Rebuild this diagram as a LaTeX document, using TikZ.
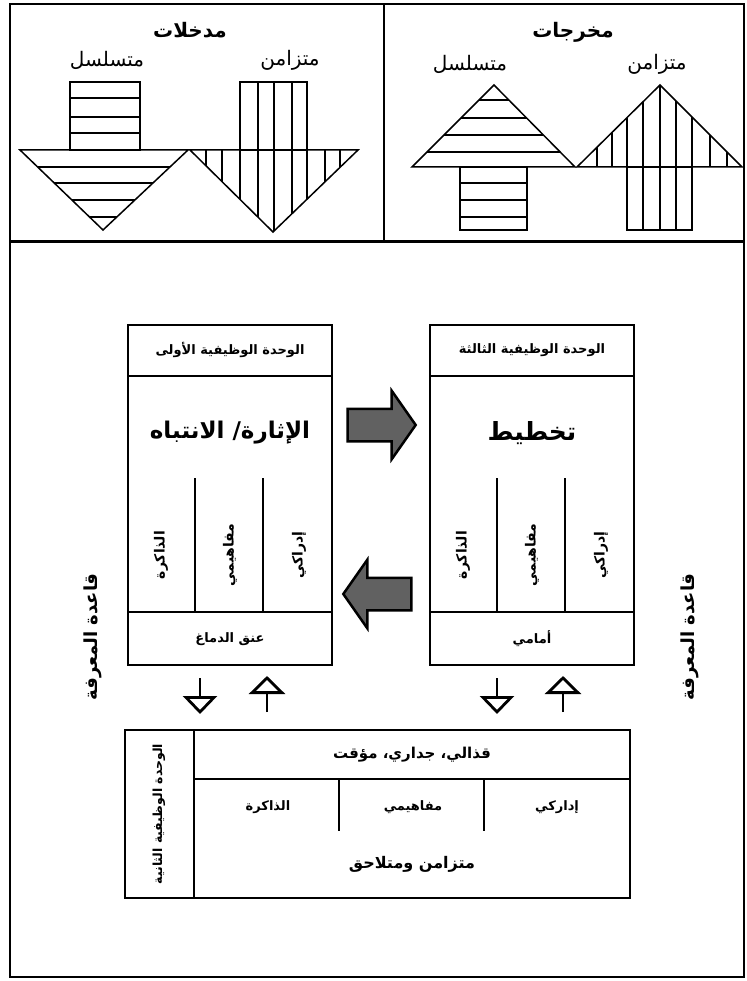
\documentclass[tikz,border=0pt]{standalone}
\usepackage{fontspec}
\usepackage{tikz}
\usetikzlibrary{arrows.meta,positioning,shapes.arrows,calc}
\TeXXeTstate=1
\newfontfamily\arabicfont[Script=Arabic]{DejaVu Sans}
\newcommand{\artext}[1]{{\arabicfont\beginR #1\endR}}

\begin{document}
\begin{tikzpicture}[
  x=1pt, y=-1pt,
  >=Stealth,
  unitbox/.style={
    draw,
    line width=2pt,
    minimum width=204pt,
    minimum height=340pt,
    inner sep=0pt
  },
  panelhead/.style={
    font=\fontsize{20pt}{22pt}\selectfont\bfseries
  },
  paneltag/.style={
    font=\fontsize{20pt}{22pt}\selectfont
  },
  unithead/.style={
    font=\fontsize{13pt}{15pt}\selectfont\bfseries
  },
  unittitle/.style={
    font=\fontsize{23pt}{26pt}\selectfont\bfseries
  },
  coltext/.style={
    font=\fontsize{14pt}{16pt}\selectfont\bfseries,
    rotate=90
  },
  sidetext/.style={
    font=\fontsize{18pt}{20pt}\selectfont\bfseries,
    rotate=90
  },
  hatchline/.style={
    line width=1.1pt
  },
  arrowline/.style={
    line width=1.5pt,
    line join=miter
  },
  blockarrow/.style={
    single arrow,
    draw,
    line width=2.5pt,
    fill=black!62,
    inner xsep=10pt,
    inner ysep=15pt,
    minimum height=68pt,
    single arrow head extend=18pt,
    single arrow tip angle=110
  },
  flowdown/.style={
    -{Triangle[open, length=18pt, width=34pt]},
    line width=2.8pt
  },
  flowup/.style={
    -{Triangle[open, length=18pt, width=36pt]},
    line width=2.8pt
  }
]

  \useasboundingbox (0,0) rectangle (746,981);

  % Outer frame and panels
  \draw[line width=2pt] (10,4) rectangle (744,977);
  \draw[line width=3pt] (10,242) -- (744,242);
  \draw[line width=2pt] (384,4) -- (384,242);

  % --- INPUTS PANEL ---
  \node[panelhead] (inhead) at (190,30) {\artext{مدخلات}};
  \node[paneltag] (inseq) at (107,60) {\artext{متسلسل}};
  \node[paneltag] (insim) at (290,60) {\artext{متزامن}};

  % sequential input arrow
  \foreach \y in {98,117,133} \draw[hatchline] (70,\y) -- (140,\y);
  \begin{scope}
    \clip (20,150) -- (188,150) -- (103,230) -- cycle;
    \foreach \y in {167,183,200,217} \draw[hatchline] (0,\y) -- (384,\y);
  \end{scope}
  \draw[arrowline] (70,82) rectangle (140,150);
  \draw[arrowline] (20,150) -- (188,150) -- (103,230) -- cycle;

  % simultaneous input arrow
  \foreach \x in {258,274,292} \draw[hatchline] (\x,82) -- (\x,150);
  \begin{scope}
    \clip (190,150) -- (358,150) -- (273,232) -- cycle;
    \foreach \x in {206,222,240,258,274,292,307,325,340} \draw[hatchline] (\x,140) -- (\x,240);
  \end{scope}
  \draw[arrowline] (240,82) rectangle (307,150);
  \draw[arrowline] (190,150) -- (358,150) -- (273,232) -- cycle;

  % --- OUTPUTS PANEL ---
  \node[panelhead] (outhead) at (573,32) {\artext{مخرجات}};
  \node[paneltag] (outseq) at (470,64) {\artext{متسلسل}};
  \node[paneltag] (outsim) at (657,64) {\artext{متزامن}};

  % sequential output arrow
  \begin{scope}
    \clip (412,167) -- (575,167) -- (494,85) -- cycle;
    \foreach \y in {100,118,135,152} \draw[hatchline] (384,\y) -- (746,\y);
  \end{scope}
  \foreach \y in {183,200,217} \draw[hatchline] (460,\y) -- (527,\y);
  \draw[arrowline] (460,167) rectangle (527,230);
  \draw[arrowline] (412,167) -- (575,167) -- (494,85) -- cycle;

  % simultaneous output arrow
  \begin{scope}
    \clip (577,167) -- (742,167) -- (660,85) -- cycle;
    \foreach \x in {597,612,627,643,660,676,692,710,727} \draw[hatchline] (\x,80) -- (\x,170);
  \end{scope}
  \foreach \x in {643,660,676} \draw[hatchline] (\x,167) -- (\x,230);
  \draw[arrowline] (627,167) rectangle (692,230);
  \draw[arrowline] (577,167) -- (742,167) -- (660,85) -- cycle;

  % --- FIRST UNIT ---
  \node[unitbox] (u1) at (230,495) {};
  \draw[line width=1.5pt] ([yshift=-52pt]u1.north west) -- ([yshift=-52pt]u1.north east);
  \draw[line width=1.5pt] ([yshift=54pt]u1.south west) -- ([yshift=54pt]u1.south east);
  \foreach \dx in {68,136}
    \draw[line width=1.2pt] ([xshift=\dx pt, yshift=-154pt]u1.north west) -- ([xshift=\dx pt, yshift=54pt]u1.south west);
  \node[unithead] (u1head) at ([yshift=-26pt]u1.north) {\artext{الوحدة الوظيفية الأولى}};
  \node[unittitle] (u1title) at ([yshift=-109pt]u1.north) {\artext{الإثارة/ الانتباه}};
  \node[coltext] (u1mem) at ([xshift=34pt, yshift=-60pt]u1.west) {\artext{الذاكرة}};
  \node[coltext] (u1con) at ([yshift=-60pt]u1.center) {\artext{مفاهيمي}};
  \node[coltext] (u1per) at ([xshift=-34pt, yshift=-60pt]u1.east) {\artext{إدراكي}};
  \node[unithead] (u1base) at ([yshift=27pt]u1.south) {\artext{عنق الدماغ}};

  % --- THIRD UNIT ---
  \node[unitbox] (u3) at (532,495) {};
  \draw[line width=1.5pt] ([yshift=-52pt]u3.north west) -- ([yshift=-52pt]u3.north east);
  \draw[line width=1.5pt] ([yshift=54pt]u3.south west) -- ([yshift=54pt]u3.south east);
  \foreach \dx in {68,136}
    \draw[line width=1.2pt] ([xshift=\dx pt, yshift=-154pt]u3.north west) -- ([xshift=\dx pt, yshift=54pt]u3.south west);
  \node[unithead] (u3head) at ([yshift=-26pt]u3.north) {\artext{الوحدة الوظيفية الثالثة}};
  \node[unittitle, font=\fontsize{25pt}{28pt}\selectfont\bfseries] (u3title) at ([yshift=-109pt]u3.north) {\artext{تخطيط}};
  \node[coltext] (u3mem) at ([xshift=34pt, yshift=-60pt]u3.west) {\artext{الذاكرة}};
  \node[coltext] (u3con) at ([yshift=-60pt]u3.center) {\artext{مفاهيمي}};
  \node[coltext] (u3per) at ([xshift=-34pt, yshift=-60pt]u3.east) {\artext{إدراكي}};
  \node[unithead] (u3base) at ([yshift=27pt]u3.south) {\artext{أمامي}};

  % Block arrows between units
  \node[blockarrow] (fwd) at ([xshift=-5pt, yshift=70pt]$(u1.east)!0.5!(u3.west)$) {};
  \node[blockarrow, shape border rotate=180] (back) at ([xshift=2pt, yshift=-99pt]$(u1.east)!0.5!(u3.west)$) {};

  % --- SECOND UNIT ---
  \node[draw, line width=2pt, minimum width=505pt, minimum height=168pt, inner sep=0pt] (u2) at (377.5,814) {};
  \draw[line width=1.5pt] ([xshift=70pt]u2.north west) -- ([xshift=70pt]u2.south west);
  \draw[line width=1.5pt] ([xshift=70pt, yshift=-50pt]u2.north west) -- ([yshift=-50pt]u2.north east);
  \foreach \dx in {215,360}
    \draw[line width=1.2pt] ([xshift=\dx pt, yshift=-50pt]u2.north west) -- ([xshift=\dx pt, yshift=-102pt]u2.north west);
  \node[coltext, font=\fontsize{12.5pt}{14pt}\selectfont\bfseries] (u2head) at ([xshift=35pt]u2.west) {\artext{الوحدة الوظيفية الثانية}};
  \node[unithead, font=\fontsize{15pt}{17pt}\selectfont\bfseries] (u2title) at (412,755) {\artext{قذالي، جداري، مؤقت}};
  \node[unithead] (u2mem) at (268,807) {\artext{الذاكرة}};
  \node[unithead] (u2con) at (413,807) {\artext{مفاهيمي}};
  \node[unithead] (u2per) at (557,807) {\artext{إداركي}};
  \node[unithead, font=\fontsize{16pt}{18pt}\selectfont\bfseries] (u2base) at (412,864) {\artext{متزامن ومتلاحق}};

  % Knowledge base labels
  \node[sidetext] (kbleft) at (93,637) {\artext{قاعدة المعرفة}};
  \node[sidetext] (kbright) at (690,637) {\artext{قاعدة المعرفة}};

  % Arrows between units and second unit
  \draw[flowdown] ([xshift=-30pt, yshift=-12pt]u1.south) -- ++(0,36);
  \draw[flowup] ([xshift=37pt, yshift=17pt]u2.north -| u1.south) -- ++(0,-36);
  \draw[flowdown] ([xshift=-35pt, yshift=-12pt]u3.south) -- ++(0,36);
  \draw[flowup] ([xshift=31pt, yshift=17pt]u2.north -| u3.south) -- ++(0,-36);

\end{tikzpicture}
\end{document}
